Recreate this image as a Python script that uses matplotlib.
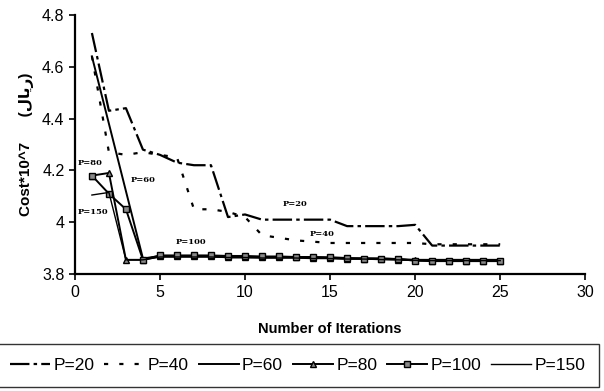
import matplotlib
matplotlib.use("Agg")
from matplotlib import pyplot as plt

plt.rcParams["font.family"] = ["Liberation Sans", "DejaVu Sans"]
plt.rcParams["lines.scale_dashes"] = False

# iterations 1..25
iters = list(range(1, 26))

p20 = [4.73, 4.43, 4.44, 4.28, 4.26, 4.23, 4.22, 4.22, 4.02, 4.03,
       4.01, 4.01, 4.01, 4.01, 4.01, 3.985, 3.985, 3.985, 3.985, 3.99,
       3.91, 3.91, 3.91, 3.91, 3.91]
p40 = [4.64, 4.27, 4.26, 4.27, 4.26, 4.25, 4.05, 4.05, 4.04, 4.02,
       3.95, 3.94, 3.93, 3.925, 3.92, 3.92, 3.92, 3.92, 3.92, 3.92,
       3.915, 3.915, 3.915, 3.915, 3.915]
p60 = [4.64, 4.38, 4.12, 3.86, 3.87, 3.87, 3.87, 3.87, 3.865, 3.865,
       3.865, 3.865, 3.865, 3.865, 3.862, 3.86, 3.86, 3.86, 3.858, 3.855,
       3.855, 3.855, 3.855, 3.855, 3.855]
p80 = [4.18, 4.19, 3.855, 3.855, 3.868, 3.868, 3.868, 3.868, 3.865, 3.865,
       3.865, 3.865, 3.865, 3.862, 3.862, 3.86, 3.86, 3.858, 3.856, 3.853,
       3.852, 3.852, 3.852, 3.852, 3.852]
p100 = [4.18, 4.11, 4.05, 3.855, 3.872, 3.872, 3.872, 3.872, 3.87, 3.87,
        3.868, 3.868, 3.866, 3.866, 3.865, 3.862, 3.86, 3.86, 3.858, 3.852,
        3.85, 3.85, 3.85, 3.85, 3.85]
p150 = [4.105, 4.115, 3.855, 3.855, 3.866, 3.866, 3.866, 3.866, 3.864, 3.864,
        3.862, 3.862, 3.862, 3.86, 3.86, 3.858, 3.858, 3.856, 3.855, 3.853,
        3.852, 3.852, 3.852, 3.852, 3.852]

# in-plot labels: (text, x, y)
notes = [("P=80", 0.18, 4.23), ("P=150", 0.18, 4.04), ("P=60", 3.25, 4.163),
         ("P=100", 5.9, 3.924), ("P=20", 12.2, 4.07), ("P=40", 13.8, 3.955)]

fig = plt.figure(figsize=(6.04, 3.91), dpi=100)
ax = fig.add_axes([0.124, 0.299, 0.845, 0.663])

ax.plot(iters, p20, color="black", lw=1.6, linestyle=(0, (14, 3, 2.5, 3)), label="P=20")
ax.plot(iters, p40, color="black", lw=1.6, linestyle=(0, (3, 8)), label="P=40")
ax.plot(iters, p60, color="black", lw=1.4, label="P=60")
ax.plot(iters, p80, color="black", lw=1.4, marker="^", ms=4, mfc="#888888", mec="black",
        label="P=80")
ax.plot(iters, p100, color="black", lw=1.4, marker="s", ms=4, mfc="#888888", mec="black",
        label="P=100")
ax.plot(iters, p150, color="black", lw=1.0, label="P=150")

for txt, x, y in notes:
    ax.text(x, y, txt, fontsize=6, fontweight="bold", family="DejaVu Serif",
            ha="left", va="center")

ax.set_xlim(0, 30)
ax.set_ylim(3.8, 4.8)
ax.set_xticks([0, 5, 10, 15, 20, 25, 30])
ax.set_yticks([3.8, 4.0, 4.2, 4.4, 4.6, 4.8])
ax.set_yticklabels(["3.8", "4", "4.2", "4.4", "4.6", "4.8"])
ax.tick_params(labelsize=11.5, length=4, width=1.2, color="black")
ax.spines["top"].set_visible(False)
ax.spines["right"].set_visible(False)
ax.spines["left"].set_linewidth(1.6)
ax.spines["bottom"].set_linewidth(1.6)

ax.set_xlabel("Number of Iterations", fontsize=10.5, fontweight="bold", labelpad=16)
rial = "\uFEDD\uFE8E\uFEF3\uFEAD"
ax.set_ylabel("Cost*10^7      (" + rial + ")", fontsize=11, fontweight="bold",
              family=["Liberation Sans", "DejaVu Sans"], labelpad=6)

leg = fig.legend(loc="center", bbox_to_anchor=(-0.006, 0.003, 0.998, 0.125),
                 mode="expand", ncol=6, fontsize=12.5,
                 frameon=True, fancybox=False, edgecolor="black", handlelength=2.3,
                 handletextpad=0.2, columnspacing=0.3, borderpad=0.8,
                 borderaxespad=0)
leg.get_frame().set_linewidth(1.0)

plt.savefig("out.png", dpi=100)
